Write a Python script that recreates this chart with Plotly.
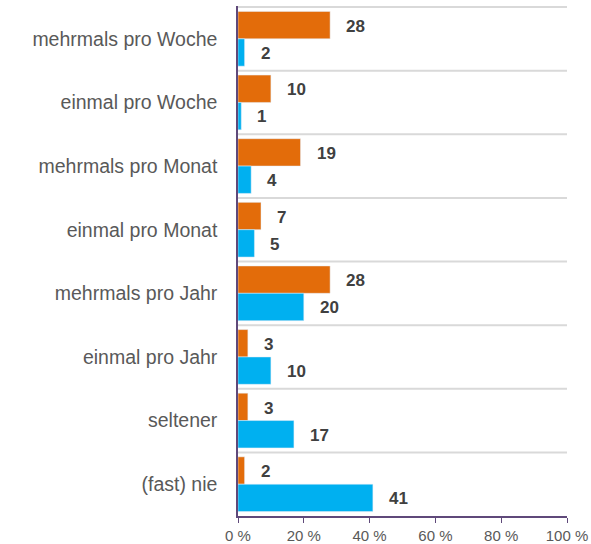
import plotly.graph_objects as go

categories = ["mehrmals pro Woche", "einmal pro Woche", "mehrmals pro Monat", "einmal pro Monat",
              "mehrmals pro Jahr", "einmal pro Jahr", "seltener", "(fast) nie"]
orange_values = [28, 10, 19, 7, 28, 3, 3, 2]
blue_values = [2, 1, 4, 5, 20, 10, 17, 41]
x_ticks = [0, 20, 40, 60, 80, 100]
x_tick_labels = [f"{v} %" for v in x_ticks]

ORANGE = "#E36C0A"
BLUE = "#00B0F0"
AXIS = "#5F497A"
FONT = "Arial, Liberation Sans, sans-serif"

fig = go.Figure()
fig.add_trace(go.Bar(y=categories, x=orange_values, orientation="h", marker_color=ORANGE,
                     name="A", hoverinfo="x+y"))
fig.add_trace(go.Bar(y=categories, x=blue_values, orientation="h", marker_color=BLUE,
                     name="B", hoverinfo="x+y"))

annotations = []
for cat, v in zip(categories, orange_values):
    annotations.append(dict(x=v, y=cat, text=f"<b>{v}</b>", showarrow=False, xanchor="left",
                            xshift=14, yshift=12.5, font=dict(size=17, color="#404040", family=FONT)))
for cat, v in zip(categories, blue_values):
    annotations.append(dict(x=v, y=cat, text=f"<b>{v}</b>", showarrow=False, xanchor="left",
                            xshift=14, yshift=-14.5, font=dict(size=17, color="#404040", family=FONT)))

shapes = []
for i in range(len(categories)):
    shapes.append(dict(type="line", xref="x", yref="y", x0=0, x1=100, y0=i - 0.5, y1=i - 0.5,
                       line=dict(color="#D9D9D9", width=2), layer="below"))

fig.update_layout(
    width=591, height=544,
    margin=dict(l=238, r=24, t=6, b=28),
    barmode="group", bargap=0.14, bargroupgap=0,
    plot_bgcolor="white", paper_bgcolor="white",
    showlegend=False,
    font=dict(family=FONT, color="#595959"),
    annotations=annotations,
    shapes=shapes,
)
fig.update_xaxes(range=[0, 100], tickmode="array", tickvals=x_ticks, ticktext=x_tick_labels,
                 showgrid=False, zeroline=False, automargin=False,
                 showline=True, linecolor=AXIS, linewidth=1.5, ticks="outside", ticklen=5,
                 tickcolor=AXIS, tickfont=dict(size=15, color="#595959"))
fig.update_yaxes(autorange="reversed", showgrid=False, showline=True, linecolor=AXIS, linewidth=1.5,
                 ticks="outside", ticklen=0, tickcolor="white", ticklabelstandoff=15, automargin=False,
                 tickfont=dict(size=19.5, color="#595959"))

fig.write_html("out.html", config={"displayModeBar": False},
               post_script="document.body.style.margin='0';")
